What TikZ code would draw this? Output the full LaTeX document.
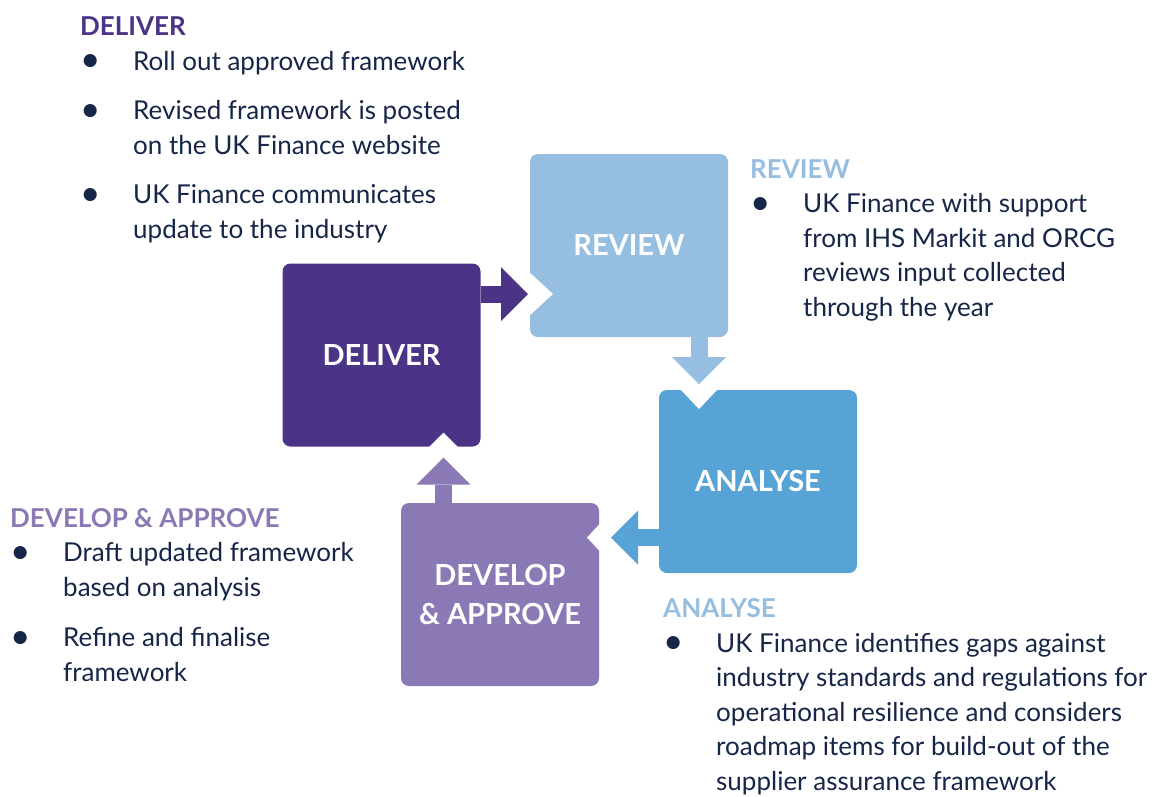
\documentclass[tikz,border=0pt]{standalone}
\usepackage{fontspec}
\setmainfont{Lato}
\usetikzlibrary{arrows.meta,positioning,calc}

\definecolor{deliverpurple}{RGB}{75,51,134}
\definecolor{reviewblue}{RGB}{150,190,225}
\definecolor{analyseblue}{RGB}{87,163,214}
\definecolor{developlilac}{RGB}{139,121,181}
\definecolor{navytext}{RGB}{22,38,72}

% bullet and hanging indent for the note lists
\newcommand{\bulletmark}{\makebox[53pt][l]{\raisebox{-1.5pt}{\scalebox{1.35}{\textbullet}}}}
\newcommand{\indentmark}{\hspace*{53pt}}

\begin{document}
\begin{tikzpicture}[x=1pt,y=-1pt,
    stage/.style={rounded corners=8pt, inner sep=0pt, outer sep=0pt,
      minimum width=198pt, minimum height=183pt, text=white, align=center,
      font=\fontsize{29}{39}\selectfont\bfseries},
    flow/.style={line width=17pt, -{Triangle[length=27pt,width=54pt,line width=0pt]}},
    notch/.style={fill=white},
    notes/.style={anchor=base west, inner sep=0pt, align=left, text=navytext,
      font=\fontsize{26}{34.5}\selectfont}]
  \path[use as bounding box, fill=white] (0,0) rectangle (1163,796);

  % the four stages of the cycle
  \node[stage, fill=deliverpurple] (deliver) at (381.5,355) {DELIVER};
  \node[stage, fill=reviewblue] (review) at (629,245.5) {REVIEW};
  \node[stage, fill=analyseblue] (analyse) at (758,481.5) {ANALYSE};
  \node[stage, fill=developlilac] (develop) at (500,594.5) {DEVELOP\\\& APPROVE};

  % rows / columns the arrows run along
  \coordinate (row1) at (0,294);
  \coordinate (col2) at (699,0);
  \coordinate (row3) at (0,537.5);
  \coordinate (col4) at (443.5,0);

  % cut-outs where each arrow points in
  \fill[notch, shift={(review.west |- row1)}] (-1,-22) -- (23,0) -- (-1,22) -- cycle;
  \fill[notch, shift={(analyse.north -| col2)}] (-19,-1) -- (0,19) -- (19,-1) -- cycle;
  \fill[notch, shift={(develop.east |- row3)}] (1,-14) -- (-12,0) -- (1,14) -- cycle;
  \fill[notch, shift={(deliver.south -| col4)}] (-15,1) -- (0,-14) -- (15,1) -- cycle;

  \draw[flow, deliverpurple, shorten >=2pt] (deliver.east |- row1) -- (review.west |- row1);
  \draw[flow, reviewblue, shorten >=6pt] (review.south -| col2) -- (analyse.north -| col2);
  \draw[flow, analyseblue, shorten >=12pt] (analyse.west |- row3) -- (develop.east |- row3);
  \draw[flow, developlilac, shorten >=11pt] (develop.north -| col4) -- (deliver.south -| col4);

  % notes beside each stage (placed by the baseline of their last line)
  \node[notes] (delivernotes) at (80,238) {{\bfseries\color{deliverpurple}DELIVER}\\
    \bulletmark Roll out approved framework\\[15pt]
    \bulletmark Revised framework is posted\\
    \indentmark on the UK Finance website\\[15pt]
    \bulletmark UK Finance communicates\\
    \indentmark update to the industry};

  \node[notes] (reviewnotes) at (750,316) {{\bfseries\color{reviewblue}REVIEW}\\
    \bulletmark UK Finance with support\\
    \indentmark from IHS Markit and ORCG\\
    \indentmark reviews input collected\\
    \indentmark through the year};

  \node[notes] (analysenotes) at (663,790) {{\bfseries\color{reviewblue}ANALYSE}\\
    \bulletmark UK Finance identifies gaps against\\
    \indentmark industry standards and regulations for\\
    \indentmark operational resilience and considers\\
    \indentmark roadmap items for build-out of the\\
    \indentmark supplier assurance framework};

  \node[notes] (developnotes) at (10,681) {{\bfseries\color{developlilac}DEVELOP \& APPROVE}\\
    \bulletmark Draft updated framework\\
    \indentmark based on analysis\\[16pt]
    \bulletmark Refine and finalise\\
    \indentmark framework};
\end{tikzpicture}
\end{document}
